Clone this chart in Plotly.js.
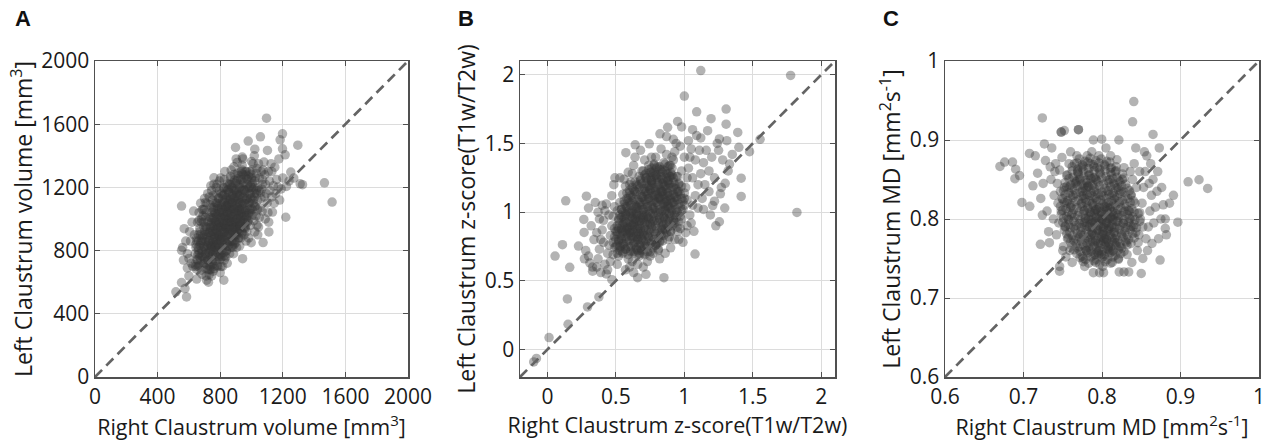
<!DOCTYPE html>
<html><head><meta charset="utf-8">
<script src="https://cdn.plot.ly/plotly-3.0.1.min.js"></script>
<style>html,body{margin:0;padding:0;background:#fff}#chart{width:1270px;height:441px}</style>
</head><body><div id="chart"></div>
<script>
// Panel A: [right volume, left volume] in mm^3 (spread / outer points)
const volumePairs = [
[553,1082],[570,939],[553,802],[560,820],[585,507],[517,539],[553,598],[575,560],[590,690],[600,750],[610,860],[620,980],[630,1050],[600,640],[615,720],[640,780],[635,900],[625,700],[645,840],[590,780],[565,740],[580,860],[605,920],
[650,620],[660,700],[670,760],[680,800],[690,860],[700,900],[710,950],[655,980],[665,1040],[675,1100],[685,650],[695,720],[705,780],[715,830],[720,680],[650,880],[660,820],[670,920],[680,1000],[690,1060],[700,1130],[710,640],[713,613],[720,740],[705,1010],[695,950],[685,880],[675,850],[665,780],[655,740],[645,700],[700,820],[715,900],[690,760],
[725,600],[730,650],[735,700],[740,760],[745,820],[750,870],[755,920],[760,980],[765,1040],[770,1100],[775,1160],[780,1220],[760,1261],[785,700],[790,760],[795,820],[800,870],[725,850],[730,910],[735,960],[740,1010],[745,1070],[750,1120],[755,790],[760,840],[765,880],[770,930],[775,980],[780,1030],[785,1080],[790,1130],[795,1180],[800,660],[740,680],[750,730],[760,700],[770,780],[780,840],[790,900],[800,950],[728,790],[738,830],[748,950],[758,1060],[768,820],[778,900],[788,960],[798,1010],[745,640],[755,670],
[805,700],[810,760],[815,820],[820,870],[825,920],[830,960],[835,1000],[840,1040],[845,1080],[850,1120],[855,1170],[860,1220],[865,1270],[870,1310],[875,1200],[880,1150],[805,1040],[810,1090],[815,1150],[820,1200],[825,1250],[830,1300],[835,760],[840,800],[845,850],[850,900],[855,940],[860,980],[865,1020],[870,1060],[875,1100],[880,950],[823,613],[808,880],[818,940],[828,1020],[838,1080],[848,1180],[858,1060],[868,900],[878,860],[812,980],[822,1060],[832,1120],[842,940],[852,1000],[862,1120],[872,980],[803,1260],[815,700],[826,740],[845,720],[860,780],[870,820],
[885,780],[890,840],[895,900],[900,950],[905,1000],[910,1050],[915,1100],[920,1150],[925,1200],[930,1250],[935,1300],[940,1340],[945,1380],[950,1230],[955,1180],[960,1120],[885,1000],[890,1060],[895,1120],[900,1180],[905,1240],[910,1290],[915,880],[920,920],[925,960],[930,1000],[935,1040],[940,1090],[945,1140],[950,1060],[955,990],[960,940],[898,1453],[909,1358],[941,1392],[943,749],[888,1330],[902,1380],[918,1020],[928,1100],[938,1180],[948,1280],[958,1020],[895,960],[912,1150],[922,1060],[932,880],[952,900],[882,1230],[890,1180],[905,820],[925,830],
[965,860],[970,920],[975,980],[980,1040],[985,1100],[990,1160],[995,1210],[1000,1260],[1005,1310],[1010,1350],[1015,1200],[1020,1140],[1025,1080],[1030,1020],[1035,960],[1040,900],[979,1493],[1000,1364],[1021,1442],[1021,918],[968,1300],[975,1250],[985,1200],[995,1130],[1005,1060],[1015,990],[1025,1260],[1035,1320],[1040,1200],[963,1050],[972,1130],[982,880],[992,960],[1002,1020],[1012,1100],[1032,1160],[1038,1060],[998,850],[1018,1400],[990,1300],
[1045,950],[1050,1010],[1055,1070],[1060,1130],[1065,1190],[1070,1250],[1075,1310],[1080,1360],[1085,1280],[1090,1220],[1095,1160],[1100,1100],[1105,1040],[1110,980],[1057,1520],[1096,1638],[1102,1434],[1074,851],[1111,918],[1048,1180],[1068,1050],[1088,1000],[1108,1300],[1115,1240],[1062,1300],[1082,1140],[1045,1350],[1118,1180],
[1134,1044],[1149,1328],[1170,1202],[1183,1501],[1198,1539],[1198,1444],[1215,1406],[1219,1011],[1223,1206],[1251,1297],[1270,1259],[1296,1467],[1311,1223],[1326,1217],[1466,1229],[1515,1107],[1130,1140],[1145,1100],[1160,1250],[1180,1120],[1190,1190],[1125,1350],[1140,1210],[1155,1160],[1200,1260],[1240,1240],[1130,1300],[1175,1380]
];
// Panel A: dense core
const volumeCorePairs = [
[648,684],[679,676],[706,688],[731,679],[761,686],
[641,713],[668,706],[699,716],[724,709],[752,714],[781,707],
[652,744],[674,737],[701,746],[723,739],[746,743],[771,736],[799,745],
[656,772],[681,766],[704,775],[729,768],[751,773],[776,765],[801,774],[828,768],
[661,803],[686,796],[709,805],[736,798],[759,804],[786,797],[811,802],[839,796],
[671,833],[694,826],[721,835],[744,828],[771,834],[794,827],[821,832],[849,826],[878,834],
[681,862],[706,856],[729,865],[756,858],[779,863],[806,857],[831,864],[859,857],[889,862],
[689,893],[716,886],[741,895],[764,888],[791,894],[814,887],[841,892],[869,886],[901,893],
[701,922],[724,916],[751,925],[774,918],[801,923],[826,917],[849,924],[881,918],[909,923],[939,917],
[709,953],[736,946],[759,955],[786,948],[809,954],[836,947],[861,952],[889,946],[921,954],[951,948],
[721,982],[744,976],[771,985],[794,978],[821,983],[846,977],[869,984],[901,978],[929,983],[961,977],
[729,1013],[756,1006],[779,1015],[806,1008],[829,1014],[856,1007],[881,1012],[909,1006],[941,1014],[969,1008],
[746,1042],[769,1036],[796,1045],[819,1038],[846,1043],[871,1037],[894,1044],[926,1038],[954,1043],[986,1037],
[759,1073],[786,1066],[809,1075],[836,1068],[859,1074],[886,1067],[911,1072],[939,1066],[971,1074],[999,1068],
[776,1102],[799,1096],[826,1105],[849,1098],[876,1103],[901,1097],[924,1104],[956,1098],[984,1103],
[789,1133],[816,1126],[839,1135],[866,1128],[889,1134],[916,1127],[941,1132],[969,1126],[1001,1134],
[806,1162],[829,1156],[856,1165],[879,1158],[906,1163],[931,1157],[959,1164],[991,1158],[1019,1163],
[824,1193],[851,1186],[874,1195],[901,1188],[924,1194],[951,1187],[979,1192],[1011,1186],
[846,1222],[869,1216],[896,1225],[919,1218],[946,1223],[974,1217],[1006,1224],
[864,1253],[891,1246],[914,1255],[941,1248],[969,1254],[1001,1247],
[889,1282],[916,1276],[939,1285],[966,1278],[994,1283],
[752,850],[775,872],[798,893],[820,915],[843,936],[866,958],[889,980],[912,1001],[935,1023],[760,905],[783,927],[806,948],[829,970],[852,991],[875,1013],[898,1035],[921,1056],[770,960],[793,982],[816,1003],[839,1025],[862,1046],[885,1068],[908,1090],[745,800],[768,822],[791,843],[814,865],[837,886],[860,908],[883,929],[906,951],[929,972],[790,1040],[813,1062],[836,1083],[859,1105],[882,1126],[905,1148],[730,860],[735,920],[748,1000],[765,1010],[780,1100],[800,760],[825,790],[850,830],[870,860],[900,900],[925,940],[950,1100],[960,1180],[820,1150],[840,1200],
[660,900],[670,940],[680,980],[690,1020],[700,1060],[715,1100],[730,1140],[745,1180],[760,1220],[650,860],[665,990],[685,1060],[705,1105],[720,1160],[740,1210],[675,900],[695,980],[712,1040],[735,1090],[755,1150],[775,1200],[795,1240],[645,820],[662,860],
[880,820],[900,850],[920,880],[940,910],[960,950],[980,990],[1000,1030],[1020,1080],[1040,1120],[1060,1170],[1070,1220],[1050,1260],[1030,1290],[990,1060],[1010,1120],[1030,1180],[970,1020],[950,990],[930,960],[910,930],[890,900],[1000,1200],[1020,1240],[980,1270],[960,1300],[940,1310]
];
// Panel B: [right z-score, left z-score] (spread / outer points)
const zscorePairs = [
[0.134,1.082],[0.11,0.763],[0.056,0.68],[0.163,0.598],[0.227,0.753],[0.266,0.947],[0.285,1.116],[0.268,0.852],[0.146,0.368],[0.151,0.184],[0.012,0.087],[-0.1,-0.09],[-0.08,-0.065],[0.293,0.31],[0.376,0.383],[0.30,0.68],[0.31,0.63],[0.33,0.60],[0.28,0.72],[0.32,0.90],[0.30,1.03],[0.34,0.80],[0.35,1.07],[0.33,0.57],[0.27,0.66],
[0.36,0.60],[0.37,0.66],[0.38,0.73],[0.39,0.80],[0.40,0.87],[0.41,0.94],[0.42,1.01],[0.43,1.06],[0.44,0.70],[0.45,0.76],[0.46,0.83],[0.47,0.90],[0.48,0.97],[0.49,1.04],[0.36,0.85],[0.38,0.95],[0.40,1.05],[0.42,0.62],[0.44,0.58],[0.46,0.64],[0.48,0.69],[0.50,0.75],[0.37,1.00],[0.41,0.78],[0.45,0.98],[0.49,0.88],[0.493,1.25],[0.471,0.508],[0.43,0.55],[0.39,0.56],[0.47,1.12],[0.485,1.20],
[0.51,0.62],[0.52,0.68],[0.53,0.74],[0.54,0.80],[0.55,0.86],[0.56,0.92],[0.57,0.98],[0.58,1.04],[0.59,1.10],[0.60,1.16],[0.61,1.22],[0.62,1.28],[0.63,1.34],[0.64,1.40],[0.573,1.433],[0.641,1.49],[0.52,0.95],[0.54,1.02],[0.56,1.08],[0.58,1.14],[0.60,1.20],[0.62,0.64],[0.64,0.70],[0.51,1.01],[0.53,1.07],[0.55,1.13],[0.57,1.19],[0.59,0.66],[0.61,0.72],[0.63,0.78],[0.65,0.84],[0.52,0.80],[0.54,0.88],[0.56,0.75],[0.58,0.82],[0.60,0.89],[0.62,0.96],[0.64,1.02],[0.51,0.86],[0.55,0.70],[0.57,0.58],[0.60,0.60],[0.63,0.56],[0.659,0.523],[0.53,1.25],[0.56,1.24],[0.59,1.29],[0.61,0.85],[0.63,0.92],[0.65,0.98],[0.64,1.15],[0.62,1.08],[0.58,0.92],[0.60,1.00],[0.55,0.97],[0.57,0.86],
[0.66,0.62],[0.67,0.68],[0.68,0.74],[0.69,0.80],[0.70,0.86],[0.71,0.92],[0.72,0.98],[0.73,1.04],[0.74,1.10],[0.75,1.16],[0.76,1.22],[0.77,1.28],[0.78,1.34],[0.79,1.40],[0.744,1.497],[0.72,0.547],[0.66,0.90],[0.68,0.96],[0.70,1.02],[0.72,1.08],[0.74,1.14],[0.76,1.20],[0.78,1.26],[0.80,1.32],[0.67,1.05],[0.69,1.11],[0.71,1.17],[0.73,1.23],[0.75,1.29],[0.77,0.70],[0.79,0.76],[0.66,0.80],[0.68,0.86],[0.70,0.70],[0.72,0.76],[0.74,0.82],[0.76,0.88],[0.78,0.94],[0.80,1.00],[0.67,1.20],[0.69,1.30],[0.71,1.38],[0.73,0.64],[0.75,0.68],[0.70,0.95],[0.74,0.96],[0.78,1.08],[0.68,1.45],[0.76,1.40],[0.77,1.02],[0.79,1.15],[0.72,1.25],[0.66,0.72],[0.70,0.60],[0.75,0.92],
[0.81,0.72],[0.82,0.78],[0.83,0.84],[0.84,0.90],[0.85,0.96],[0.86,1.02],[0.87,1.08],[0.88,1.14],[0.89,1.20],[0.90,1.26],[0.91,1.32],[0.92,1.38],[0.93,1.44],[0.94,1.50],[0.822,1.57],[0.878,1.617],[0.951,1.66],[0.851,0.523],[0.81,1.10],[0.83,1.16],[0.85,1.22],[0.87,1.28],[0.89,1.34],[0.91,1.40],[0.93,0.80],[0.95,0.86],[0.82,0.95],[0.84,1.01],[0.86,1.07],[0.88,0.80],[0.90,0.86],[0.92,0.92],[0.94,0.98],[0.81,1.24],[0.83,1.30],[0.85,1.36],[0.87,1.42],[0.89,0.96],[0.91,1.02],[0.93,1.08],[0.95,1.14],[0.82,0.66],[0.86,0.70],[0.90,0.74],[0.84,1.12],[0.88,1.04],[0.92,1.18],[0.94,1.26],[0.86,0.88],[0.90,1.10],[0.83,1.46],[0.87,1.55],[0.92,1.53],
[0.96,0.80],[0.97,0.88],[0.98,0.95],[0.99,1.02],[1.00,1.10],[1.01,1.18],[1.02,1.25],[1.03,1.32],[1.04,1.40],[1.05,1.46],[0.96,1.20],[0.98,1.30],[1.00,1.40],[1.02,0.90],[1.04,0.98],[1.06,1.05],[1.08,1.12],[1.10,1.20],[1.12,1.28],[1.14,1.36],[1.00,1.845],[1.09,1.73],[1.12,2.03],[1.09,1.557],[1.078,0.695],[0.97,1.48],[1.03,1.52],[1.06,1.25],[1.08,1.38],[1.11,1.45],[0.99,0.78],[1.01,0.85],[1.05,0.92],[1.07,0.86],[1.10,1.03],[1.13,1.10],[1.15,1.20],[0.98,1.62],[1.06,1.60],[1.12,1.54],[1.14,1.02],
[1.17,1.593],[1.195,1.68],[1.256,1.533],[1.305,1.75],[1.305,1.64],[1.39,1.58],[1.398,1.472],[1.33,1.35],[1.298,1.21],[1.263,1.133],[1.207,1.048],[1.295,1.03],[1.256,0.93],[1.23,0.90],[1.415,1.247],[1.415,1.114],[1.18,1.30],[1.20,1.40],[1.22,1.25],[1.25,1.45],[1.28,1.38],[1.32,1.30],[1.35,1.42],[1.18,1.15],[1.22,1.08],[1.16,1.45],[1.27,1.18],[1.24,1.50],[1.31,1.52],[1.19,0.98],
[1.476,1.44],[1.553,1.53],[1.776,1.995],[1.822,0.998]
];
// Panel B: dense core
const zscoreCorePairs = [
[0.51,0.70],[0.55,0.71],[0.59,0.69],[0.63,0.71],[0.67,0.70],[0.71,0.69],[0.75,0.71],
[0.49,0.74],[0.53,0.75],[0.57,0.73],[0.61,0.75],[0.65,0.74],[0.69,0.73],[0.73,0.75],[0.77,0.74],[0.81,0.73],
[0.48,0.78],[0.52,0.79],[0.56,0.77],[0.60,0.79],[0.64,0.78],[0.68,0.77],[0.72,0.79],[0.76,0.78],[0.80,0.77],[0.84,0.79],
[0.49,0.82],[0.53,0.83],[0.57,0.81],[0.61,0.83],[0.65,0.82],[0.69,0.81],[0.73,0.83],[0.77,0.82],[0.81,0.81],[0.85,0.83],[0.89,0.82],
[0.50,0.86],[0.54,0.87],[0.58,0.85],[0.62,0.87],[0.66,0.86],[0.70,0.85],[0.74,0.87],[0.78,0.86],[0.82,0.85],[0.86,0.87],[0.90,0.86],
[0.51,0.90],[0.55,0.91],[0.59,0.89],[0.63,0.91],[0.67,0.90],[0.71,0.89],[0.75,0.91],[0.79,0.90],[0.83,0.89],[0.87,0.91],[0.91,0.90],[0.95,0.89],
[0.52,0.94],[0.56,0.95],[0.60,0.93],[0.64,0.95],[0.68,0.94],[0.72,0.93],[0.76,0.95],[0.80,0.94],[0.84,0.93],[0.88,0.95],[0.92,0.94],[0.96,0.93],
[0.53,0.98],[0.57,0.99],[0.61,0.97],[0.65,0.99],[0.69,0.98],[0.73,0.97],[0.77,0.99],[0.81,0.98],[0.85,0.97],[0.89,0.99],[0.93,0.98],[0.97,0.97],
[0.54,1.02],[0.58,1.03],[0.62,1.01],[0.66,1.03],[0.70,1.02],[0.74,1.01],[0.78,1.03],[0.82,1.02],[0.86,1.01],[0.90,1.03],[0.94,1.02],[0.98,1.01],
[0.56,1.06],[0.60,1.07],[0.64,1.05],[0.68,1.07],[0.72,1.06],[0.76,1.05],[0.80,1.07],[0.84,1.06],[0.88,1.05],[0.92,1.07],[0.96,1.06],[1.00,1.05],
[0.58,1.10],[0.62,1.11],[0.66,1.09],[0.70,1.11],[0.74,1.10],[0.78,1.09],[0.82,1.11],[0.86,1.10],[0.90,1.09],[0.94,1.11],[0.98,1.10],[1.02,1.09],
[0.60,1.14],[0.64,1.15],[0.68,1.13],[0.72,1.15],[0.76,1.14],[0.80,1.13],[0.84,1.15],[0.88,1.14],[0.92,1.13],[0.96,1.15],[1.00,1.14],
[0.62,1.18],[0.66,1.19],[0.70,1.17],[0.74,1.19],[0.78,1.18],[0.82,1.17],[0.86,1.19],[0.90,1.18],[0.94,1.17],[0.98,1.19],
[0.64,1.22],[0.68,1.23],[0.72,1.21],[0.76,1.23],[0.80,1.22],[0.84,1.21],[0.88,1.23],[0.92,1.22],[0.96,1.21],
[0.67,1.26],[0.71,1.27],[0.75,1.25],[0.79,1.27],[0.83,1.26],[0.87,1.25],[0.91,1.27],[0.95,1.26],
[0.70,1.30],[0.74,1.31],[0.78,1.29],[0.82,1.31],[0.86,1.30],[0.90,1.29],
[0.74,1.34],[0.78,1.35],[0.82,1.33],[0.86,1.35],[0.90,1.34],
[0.60,0.85],[0.62,0.90],[0.64,0.95],[0.66,0.88],[0.68,0.83],[0.58,0.88],[0.63,0.82],[0.67,0.93],[0.70,0.98],[0.61,0.99],[0.65,1.04],[0.82,1.10],[0.84,1.15],[0.86,1.20],[0.88,1.12],[0.80,1.18],[0.85,1.06],[0.78,1.12],[0.83,1.24],[0.89,1.26],
[0.53,0.72],[0.57,0.73],[0.61,0.71],[0.65,0.73],[0.69,0.72],[0.73,0.71],
[0.51,0.76],[0.55,0.77],[0.59,0.75],[0.63,0.77],[0.67,0.76],[0.71,0.75],[0.75,0.77],[0.79,0.76],
[0.50,0.80],[0.54,0.81],[0.58,0.79],[0.62,0.81],[0.66,0.80],[0.70,0.79],[0.74,0.81],[0.78,0.80],[0.82,0.79],
[0.51,0.84],[0.55,0.85],[0.59,0.83],[0.63,0.85],[0.67,0.84],[0.71,0.83],[0.75,0.85],[0.79,0.84],[0.83,0.83],[0.87,0.85],
[0.52,0.88],[0.56,0.89],[0.60,0.87],[0.64,0.89],[0.68,0.88],[0.72,0.87],[0.76,0.89],[0.80,0.88],[0.84,0.87],[0.88,0.89],
[0.53,0.92],[0.57,0.93],[0.61,0.91],[0.65,0.93],[0.69,0.92],[0.73,0.91],[0.77,0.93],[0.81,0.92],[0.85,0.91],[0.89,0.93],[0.93,0.92],
[0.54,0.96],[0.58,0.97],[0.62,0.95],[0.66,0.97],[0.70,0.96],[0.74,0.95],[0.78,0.97],[0.82,0.96],[0.86,0.95],[0.90,0.97],[0.94,0.96],
[0.55,1.00],[0.59,1.01],[0.63,0.99],[0.67,1.01],[0.71,1.00],[0.75,0.99],[0.79,1.01],[0.83,1.00],[0.87,0.99],[0.91,1.01],[0.95,1.00],
[0.57,1.04],[0.61,1.05],[0.65,1.03],[0.69,1.05],[0.73,1.04],[0.77,1.03],[0.81,1.05],[0.85,1.04],[0.89,1.03],[0.93,1.05],[0.97,1.04],
[0.59,1.08],[0.63,1.09],[0.67,1.07],[0.71,1.09],[0.75,1.08],[0.79,1.07],[0.83,1.09],[0.87,1.08],[0.91,1.07],[0.95,1.09],[0.99,1.08],
[0.61,1.12],[0.65,1.13],[0.69,1.11],[0.73,1.13],[0.77,1.12],[0.81,1.11],[0.85,1.13],[0.89,1.12],[0.93,1.11],[0.97,1.13],
[0.63,1.16],[0.67,1.17],[0.71,1.15],[0.75,1.17],[0.79,1.16],[0.83,1.15],[0.87,1.17],[0.91,1.16],[0.95,1.15],
[0.65,1.20],[0.69,1.21],[0.73,1.19],[0.77,1.21],[0.81,1.20],[0.85,1.19],[0.89,1.21],[0.93,1.20],
[0.68,1.24],[0.72,1.25],[0.76,1.23],[0.80,1.25],[0.84,1.24],[0.88,1.23],[0.92,1.25],
[0.72,1.28],[0.76,1.29],[0.80,1.27],[0.84,1.29],[0.88,1.28],
[0.76,1.32],[0.80,1.33],[0.84,1.31],[0.88,1.33]
];
// Panel C: [right MD, left MD] in mm^2 s^-1 (spread / outer points)
const mdPairs = [
[0.670,0.8665],[0.676,0.872],[0.686,0.872],[0.690,0.863],[0.689,0.851],[0.695,0.855],[0.698,0.821],[0.724,0.928],[0.748,0.910],[0.752,0.912],[0.770,0.913],[0.746,0.734],
[0.708,0.816],[0.7215,0.768],[0.732,0.784],[0.7076,0.883],[0.7266,0.895],[0.712,0.842],[0.718,0.858],[0.722,0.826],[0.728,0.874],[0.730,0.810],[0.735,0.850],[0.738,0.800],[0.734,0.866],[0.715,0.880],[0.725,0.845],[0.739,0.830],[0.736,0.890],[0.724,0.805],[0.733,0.770],[0.740,0.860],
[0.742,0.780],[0.745,0.795],[0.748,0.810],[0.750,0.825],[0.752,0.840],[0.755,0.855],[0.758,0.870],[0.760,0.885],[0.743,0.845],[0.746,0.862],[0.749,0.878],[0.751,0.765],[0.754,0.752],[0.757,0.800],[0.760,0.815],[0.763,0.830],[0.766,0.845],[0.769,0.860],[0.744,0.820],[0.747,0.835],[0.753,0.790],[0.756,0.775],[0.759,0.760],[0.762,0.745],[0.765,0.870],[0.768,0.880],[0.741,0.870],[0.748,0.910],[0.746,0.740],[0.761,0.805],[0.764,0.790],[0.767,0.775],[0.758,0.840],[0.755,0.820],[0.770,0.913],[0.750,0.760],
[0.771,0.765],[0.773,0.780],[0.775,0.795],[0.777,0.810],[0.779,0.825],[0.781,0.840],[0.783,0.855],[0.785,0.870],[0.787,0.885],[0.789,0.900],[0.772,0.850],[0.774,0.865],[0.776,0.750],[0.778,0.740],[0.780,0.760],[0.782,0.775],[0.784,0.790],[0.786,0.805],[0.788,0.820],[0.790,0.835],[0.792,0.850],[0.794,0.865],[0.796,0.880],[0.798,0.770],[0.791,0.755],[0.793,0.785],[0.795,0.800],[0.797,0.815],[0.799,0.830],[0.789,0.732],[0.797,0.732],[0.776,0.830],[0.778,0.790],[0.782,0.815],[0.786,0.780],[0.790,0.795],[0.794,0.810],[0.798,0.790],[0.781,0.880],[0.785,0.845],[0.788,0.765],[0.792,0.745],[0.796,0.760],[0.800,0.780],[0.779,0.800],[0.783,0.800],[0.787,0.795],[0.791,0.810],[0.795,0.775],[0.799,0.755],[0.774,0.820],[0.777,0.842],[0.784,0.830],[0.793,0.825],
[0.801,0.740],[0.803,0.755],[0.805,0.770],[0.807,0.785],[0.809,0.800],[0.811,0.815],[0.813,0.830],[0.815,0.845],[0.817,0.860],[0.819,0.875],[0.802,0.790],[0.804,0.805],[0.806,0.820],[0.808,0.835],[0.810,0.850],[0.812,0.865],[0.814,0.760],[0.816,0.775],[0.818,0.790],[0.820,0.805],[0.822,0.820],[0.824,0.835],[0.826,0.850],[0.828,0.865],[0.821,0.750],[0.823,0.765],[0.825,0.780],[0.827,0.795],[0.829,0.810],[0.802,0.732],[0.7996,0.901],[0.8215,0.900],[0.805,0.890],[0.811,0.880],[0.803,0.775],[0.806,0.795],[0.808,0.765],[0.812,0.790],[0.815,0.805],[0.818,0.770],[0.810,0.780],[0.804,0.815],[0.800,0.800],[0.813,0.745],[0.816,0.825],[0.820,0.840],[0.822,0.733],[0.828,0.733],[0.809,0.760],[0.807,0.810],[0.814,0.800],
[0.831,0.770],[0.833,0.790],[0.835,0.810],[0.837,0.830],[0.839,0.850],[0.841,0.870],[0.843,0.890],[0.845,0.760],[0.847,0.780],[0.849,0.800],[0.851,0.820],[0.853,0.840],[0.855,0.860],[0.857,0.880],[0.859,0.790],[0.861,0.810],[0.863,0.830],[0.865,0.850],[0.834,0.733],[0.850,0.731],[0.8405,0.9486],[0.839,0.923],[0.865,0.907],[0.8637,0.769],[0.832,0.755],[0.836,0.800],[0.838,0.745],[0.842,0.820],[0.844,0.840],[0.846,0.770],[0.848,0.860],[0.852,0.790],[0.854,0.885],[0.856,0.775],[0.858,0.760],[0.860,0.845],[0.862,0.870],[0.866,0.795],[0.868,0.815],[0.870,0.835],[0.840,0.790],[0.836,0.860],[0.852,0.750],[0.848,0.808],
[0.874,0.748],[0.8806,0.788],[0.8806,0.800],[0.886,0.820],[0.891,0.830],[0.8966,0.796],[0.9097,0.847],[0.9236,0.8497],[0.9346,0.8387],[0.872,0.775],[0.875,0.800],[0.878,0.818],[0.882,0.780],[0.871,0.860],[0.876,0.840],[0.873,0.890]
];
// Panel C: dense core
const mdCorePairs = [
[0.776,0.746],[0.783,0.744],[0.790,0.747],[0.797,0.743],[0.804,0.746],[0.811,0.744],
[0.768,0.756],[0.775,0.753],[0.782,0.757],[0.789,0.754],[0.796,0.756],[0.803,0.753],[0.810,0.757],[0.817,0.754],[0.824,0.756],
[0.762,0.766],[0.769,0.763],[0.776,0.767],[0.783,0.764],[0.790,0.766],[0.797,0.763],[0.804,0.767],[0.811,0.764],[0.818,0.766],[0.825,0.763],[0.832,0.767],
[0.757,0.776],[0.764,0.773],[0.771,0.777],[0.778,0.774],[0.785,0.776],[0.792,0.773],[0.799,0.777],[0.806,0.774],[0.813,0.776],[0.820,0.773],[0.827,0.777],[0.834,0.774],[0.841,0.776],
[0.752,0.786],[0.759,0.783],[0.766,0.787],[0.773,0.784],[0.780,0.786],[0.787,0.783],[0.794,0.787],[0.801,0.784],[0.808,0.786],[0.815,0.783],[0.822,0.787],[0.829,0.784],[0.836,0.786],[0.843,0.783],
[0.750,0.796],[0.757,0.793],[0.764,0.797],[0.771,0.794],[0.778,0.796],[0.785,0.793],[0.792,0.797],[0.799,0.794],[0.806,0.796],[0.813,0.793],[0.820,0.797],[0.827,0.794],[0.834,0.796],[0.841,0.793],[0.848,0.797],
[0.748,0.806],[0.755,0.803],[0.762,0.807],[0.769,0.804],[0.776,0.806],[0.783,0.803],[0.790,0.807],[0.797,0.804],[0.804,0.806],[0.811,0.803],[0.818,0.807],[0.825,0.804],[0.832,0.806],[0.839,0.803],[0.846,0.807],
[0.747,0.816],[0.754,0.813],[0.761,0.817],[0.768,0.814],[0.775,0.816],[0.782,0.813],[0.789,0.817],[0.796,0.814],[0.803,0.816],[0.810,0.813],[0.817,0.817],[0.824,0.814],[0.831,0.816],[0.838,0.813],
[0.749,0.826],[0.756,0.823],[0.763,0.827],[0.770,0.824],[0.777,0.826],[0.784,0.823],[0.791,0.827],[0.798,0.824],[0.805,0.826],[0.812,0.823],[0.819,0.827],[0.826,0.824],[0.833,0.826],[0.840,0.823],
[0.751,0.836],[0.758,0.833],[0.765,0.837],[0.772,0.834],[0.779,0.836],[0.786,0.833],[0.793,0.837],[0.800,0.834],[0.807,0.836],[0.814,0.833],[0.821,0.837],[0.828,0.834],[0.835,0.836],
[0.753,0.846],[0.760,0.843],[0.767,0.847],[0.774,0.844],[0.781,0.846],[0.788,0.843],[0.795,0.847],[0.802,0.844],[0.809,0.846],[0.816,0.843],[0.823,0.847],[0.830,0.844],
[0.756,0.856],[0.763,0.853],[0.770,0.857],[0.777,0.854],[0.784,0.856],[0.791,0.853],[0.798,0.857],[0.805,0.854],[0.812,0.856],[0.819,0.853],[0.826,0.857],
[0.762,0.866],[0.769,0.863],[0.776,0.867],[0.783,0.864],[0.790,0.866],[0.797,0.863],[0.804,0.867],[0.811,0.864],[0.818,0.866],
[0.771,0.876],[0.778,0.873],[0.785,0.877],[0.792,0.874],[0.799,0.876],[0.806,0.873],
[0.785,0.770],[0.792,0.772],[0.799,0.768],[0.806,0.774],[0.813,0.771],[0.788,0.782],[0.795,0.786],[0.802,0.780],[0.809,0.788],[0.816,0.783],[0.790,0.796],[0.797,0.800],[0.804,0.794],[0.811,0.802],[0.818,0.797],[0.786,0.808],[0.793,0.812],[0.800,0.806],[0.807,0.815],[0.814,0.810],[0.780,0.760],[0.794,0.758],[0.808,0.762],[0.775,0.835],[0.782,0.842],[0.768,0.848],[0.789,0.852],
[0.772,0.751],[0.779,0.749],[0.786,0.752],[0.793,0.749],[0.800,0.751],[0.807,0.749],[0.814,0.752],[0.821,0.749],
[0.765,0.761],[0.772,0.759],[0.779,0.762],[0.786,0.759],[0.793,0.761],[0.800,0.759],[0.807,0.762],[0.814,0.759],[0.821,0.761],[0.828,0.759],
[0.760,0.771],[0.767,0.769],[0.774,0.772],[0.781,0.769],[0.788,0.771],[0.795,0.769],[0.802,0.772],[0.809,0.769],[0.816,0.771],[0.823,0.769],[0.830,0.772],[0.837,0.769],
[0.755,0.781],[0.762,0.779],[0.769,0.782],[0.776,0.779],[0.783,0.781],[0.790,0.779],[0.797,0.782],[0.804,0.779],[0.811,0.781],[0.818,0.779],[0.825,0.782],[0.832,0.779],[0.839,0.781],
[0.753,0.791],[0.760,0.789],[0.767,0.792],[0.774,0.789],[0.781,0.791],[0.788,0.789],[0.795,0.792],[0.802,0.789],[0.809,0.791],[0.816,0.789],[0.823,0.792],[0.830,0.789],[0.837,0.791],[0.844,0.789],
[0.751,0.801],[0.758,0.799],[0.765,0.802],[0.772,0.799],[0.779,0.801],[0.786,0.799],[0.793,0.802],[0.800,0.799],[0.807,0.801],[0.814,0.799],[0.821,0.802],[0.828,0.799],[0.835,0.801],[0.842,0.799],
[0.750,0.811],[0.757,0.809],[0.764,0.812],[0.771,0.809],[0.778,0.811],[0.785,0.809],[0.792,0.812],[0.799,0.809],[0.806,0.811],[0.813,0.809],[0.820,0.812],[0.827,0.809],[0.834,0.811],[0.841,0.809],
[0.752,0.821],[0.759,0.819],[0.766,0.822],[0.773,0.819],[0.780,0.821],[0.787,0.819],[0.794,0.822],[0.801,0.819],[0.808,0.821],[0.815,0.819],[0.822,0.822],[0.829,0.819],[0.836,0.821],
[0.753,0.831],[0.760,0.829],[0.767,0.832],[0.774,0.829],[0.781,0.831],[0.788,0.829],[0.795,0.832],[0.802,0.829],[0.809,0.831],[0.816,0.829],[0.823,0.832],[0.830,0.829],[0.837,0.831],
[0.755,0.841],[0.762,0.839],[0.769,0.842],[0.776,0.839],[0.783,0.841],[0.790,0.839],[0.797,0.842],[0.804,0.839],[0.811,0.841],[0.818,0.839],[0.825,0.842],[0.832,0.839],
[0.758,0.851],[0.765,0.849],[0.772,0.852],[0.779,0.849],[0.786,0.851],[0.793,0.849],[0.800,0.852],[0.807,0.849],[0.814,0.851],[0.821,0.849],[0.828,0.852],
[0.762,0.861],[0.769,0.859],[0.776,0.862],[0.783,0.859],[0.790,0.861],[0.797,0.859],[0.804,0.862],[0.811,0.859],[0.818,0.861],
[0.768,0.871],[0.775,0.869],[0.782,0.872],[0.789,0.869],[0.796,0.871],[0.803,0.869],[0.810,0.872]
];

const rangeA = [0, 2000], ticksA = [0, 400, 800, 1200, 1600, 2000];
const rangeB = [-0.2, 2.1], ticksB = [0, 0.5, 1, 1.5, 2];
const rangeC = [0.6, 1.0], ticksC = [0.6, 0.7, 0.8, 0.9, 1];

const xTitles = ['Right Claustrum volume [mm<sup>3</sup>]', 'Right Claustrum z-score(T1w/T2w)', 'Right Claustrum MD [mm<sup>2</sup>s<sup>-1</sup>]'];
const yTitles = ['Left Claustrum volume [mm<sup>3</sup>]', 'Left Claustrum z-score(T1w/T2w)', 'Left Claustrum MD [mm<sup>2</sup>s<sup>-1</sup>]'];
const panelLetters = ['A', 'B', 'C'];

const W = 1270, H = 441;
const FONT = '"Open Sans", "Noto Sans", sans-serif';
const plotBoxes = [[95, 408], [520, 835], [945, 1259]];
const letterLeft = [13, 456, 881];
const plotTop = 61, plotBottom = 377;

const sets = [volumePairs.concat(volumeCorePairs), zscorePairs.concat(zscoreCorePairs), mdPairs.concat(mdCorePairs)];
const ranges = [rangeA, rangeB, rangeC];
const tickSets = [ticksA, ticksB, ticksC];

const traces = [];
const layout = {
  width: W, height: H, margin: {l: 0, r: 0, t: 0, b: 0},
  paper_bgcolor: '#fff', plot_bgcolor: '#fff', showlegend: false,
  font: {family: FONT, size: 21, color: '#1a1a1a'},
  annotations: []
};
sets.forEach((pts, i) => {
  const xa = i === 0 ? 'x' : 'x' + (i + 1), ya = i === 0 ? 'y' : 'y' + (i + 1);
  traces.push({
    type: 'scatter', mode: 'markers', xaxis: xa, yaxis: ya,
    x: pts.map(p => p[0]), y: pts.map(p => p[1]),
    marker: {size: 9.5, color: 'rgb(55,55,55)', opacity: 0.38, line: {width: 0}},
    hoverinfo: 'skip'
  });
  traces.push({
    type: 'scatter', mode: 'lines', xaxis: xa, yaxis: ya,
    x: ranges[i], y: ranges[i],
    line: {color: 'rgb(100,100,100)', width: 2.7, dash: '10px,6px'},
    hoverinfo: 'skip'
  });
  const common = {
    range: ranges[i], tickvals: tickSets[i], ticktext: tickSets[i].map(String),
    showgrid: true, gridcolor: 'rgb(220,220,220)', gridwidth: 1,
    zeroline: false, showline: true, linecolor: 'rgb(80,80,80)', linewidth: 1.5,
    mirror: 'ticks', ticks: 'inside', ticklen: 5, tickcolor: 'rgb(80,80,80)', tickwidth: 1,
    tickfont: {family: FONT, size: 21, color: '#1a1a1a'}, automargin: false, fixedrange: true
  };
  const key = i === 0 ? '' : String(i + 1);
  layout['xaxis' + key] = Object.assign({}, common, {
    domain: [plotBoxes[i][0] / W, plotBoxes[i][1] / W], anchor: ya,
    title: {text: xTitles[i], font: {family: FONT, size: 21.5, color: '#1a1a1a'}, standoff: 2}
  });
  layout['yaxis' + key] = Object.assign({}, common, {
    domain: [1 - plotBottom / H, 1 - plotTop / H], anchor: xa,
    title: {text: yTitles[i], font: {family: FONT, size: 23, color: '#1a1a1a'}, standoff: 2}
  });
  layout.annotations.push({
    text: '<b>' + panelLetters[i] + '</b>', xref: 'paper', yref: 'paper',
    x: letterLeft[i] / W, y: 1 - 19 / H, xanchor: 'left', yanchor: 'middle',
    showarrow: false, font: {family: '"Liberation Sans", Arial, sans-serif', size: 22, color: '#111'}
  });
});
Plotly.newPlot('chart', traces, layout, {staticPlot: true, displayModeBar: false});
</script>
</body></html>
